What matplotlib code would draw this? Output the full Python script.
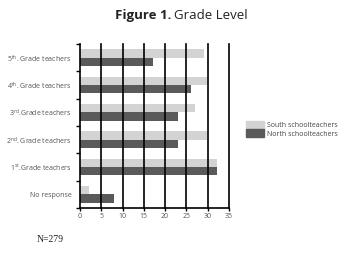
import matplotlib
matplotlib.use("Agg")
import matplotlib.pyplot as plt
from matplotlib.patches import Patch

# categories bottom -> top
categories = ["No response",
              r"1$^{\mathrm{st}}$.Grade teachers",
              r"2$^{\mathrm{nd}}$. Grade teachers",
              r"3$^{\mathrm{rd}}$.Grade teachers",
              r"4$^{\mathrm{th}}$. Grade teachers",
              r"5$^{\mathrm{th}}$. Grade teachers"]
south = [2.1, 32.2, 29.8, 27.0, 29.8, 29.1]
north = [8.0, 32.2, 23.0, 23.0, 26.1, 17.1]
xticks = [0, 5, 10, 15, 20, 25, 30, 35]

SOUTH_COL = "#d3d3d3"
NORTH_COL = "#5a5a5a"

plt.rcParams['font.family'] = ['Open Sans', 'DejaVu Sans']
plt.rcParams['mathtext.fontset'] = 'custom'
plt.rcParams['mathtext.rm'] = 'Open Sans'

fig = plt.figure(figsize=(3.51, 2.59), dpi=100)
ax = fig.add_axes([0.228, 0.197, 0.424, 0.633])

y = list(range(len(categories)))
h = 0.3
ax.barh([v + h / 2 for v in y], south, height=h, color=SOUTH_COL, zorder=1)
ax.barh([v - h / 2 for v in y], north, height=h, color=NORTH_COL, zorder=1)

# black vertical grid lines
for t in xticks[1:]:
    ax.axvline(t, color="black", lw=1.2, zorder=2, clip_on=False)

ax.set_xlim(0, 35)
ax.set_ylim(-0.5, len(categories) - 0.5)
ax.set_xticks(xticks)
ax.set_xticklabels([str(t) for t in xticks], fontsize=5, color="#555555")
ax.set_yticks(y)
ax.set_yticklabels(categories, fontsize=5, color="#555555")
ax.set_yticks([v - 0.5 for v in range(len(categories) + 1)], minor=True)
ax.tick_params(axis="y", which="major", length=0, pad=6)
ax.tick_params(axis="y", which="minor", length=3, width=1, color="black")
ax.tick_params(axis="x", length=2.5, width=1, pad=1)

for s in ["top", "right"]:
    ax.spines[s].set_visible(False)
for s in ["left", "bottom"]:
    ax.spines[s].set_linewidth(1.2)
    ax.spines[s].set_color("black")

fig.text(0.488, 0.942, "Figure 1.", ha="right", va="center",
         fontsize=9.5, fontweight="bold", color="#222222")
fig.text(0.496, 0.942, "Grade Level", ha="left", va="center",
         fontsize=9.5, color="#222222")

handles = [Patch(color=SOUTH_COL, label="South schoolteachers"),
           Patch(color=NORTH_COL, label="North schoolteachers")]
fig.legend(handles=handles, loc="upper left", bbox_to_anchor=(0.69, 0.545),
           frameon=False, fontsize=5, handlelength=2.6, handleheight=1.3,
           labelspacing=0.0, handletextpad=0.5, borderpad=0, labelcolor="#444444")

fig.text(0.105, 0.065, "N=279", fontsize=7, family="Liberation Serif", color="#222222")

fig.savefig("out.png", dpi=100)
